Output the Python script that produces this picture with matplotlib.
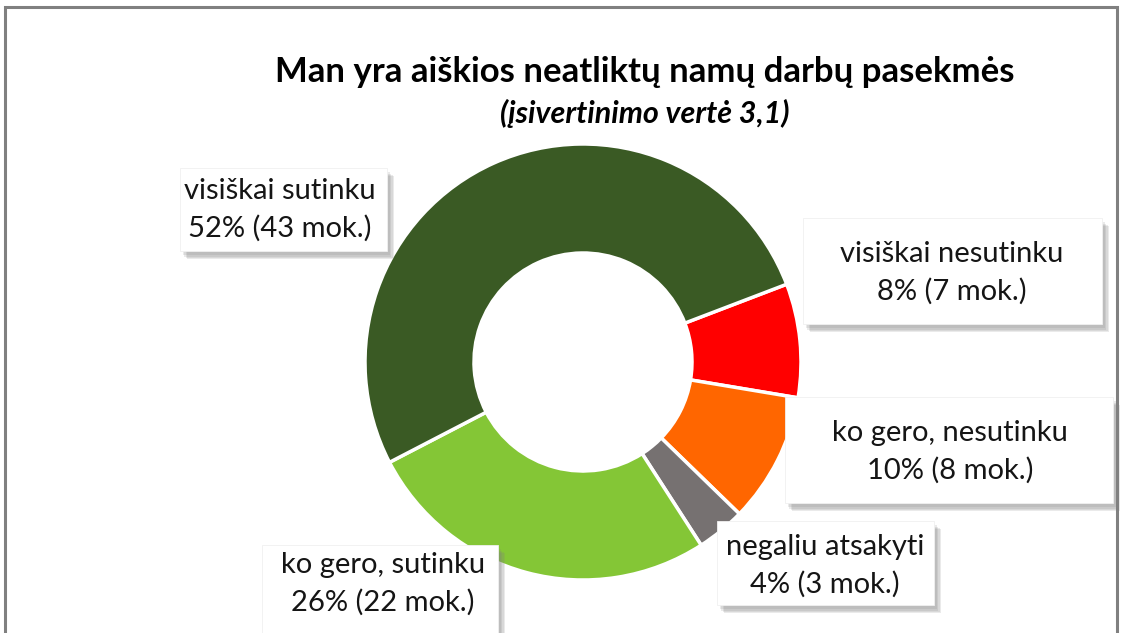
import matplotlib
matplotlib.use("Agg")
import matplotlib.pyplot as plt
from matplotlib.patches import Rectangle
import matplotlib.patheffects as pe

plt.rcParams['font.family'] = ['Lato', 'DejaVu Sans']

title = "Man yra aiškios neatliktų namų darbų pasekmės"
subtitle = "(įsivertinimo vertė 3,1)"

# slices in clockwise order starting at the red one
categories = ["visiškai nesutinku", "ko gero, nesutinku", "negaliu atsakyti",
              "ko gero, sutinku", "visiškai sutinku"]
counts = [7, 8, 3, 22, 43]
percents = [8, 10, 4, 26, 52]
colors = ["#FF0000", "#FF6600", "#767171", "#84C636", "#3A5A24"]

# label box placement (pixel coords, y from top): x0, y0, x1, y1
boxes = [(803, 218, 1102, 324), (785, 397, 1113, 503), (717, 521, 934, 605),
         (262, 545, 498, 660), (180, 168, 387, 251)]
# text centre of each label (pixel coords, y from top)
text_pos = [(952, 273), (950, 452), (825, 566), (383, 584), (280, 210)]

W, H = 1121, 633
fig = plt.figure(figsize=(W / 100, H / 100), dpi=100)
ax = fig.add_axes([0, 0, 1, 1])

# outer chart frame (bottom edge is off the canvas)
ax.add_patch(Rectangle((5, -20), 1112, H - 7 + 20, fill=False,
                       edgecolor="#808080", linewidth=2.2, zorder=0))

cx, cy, r = 583, H - 362, 218
ax.pie(counts, colors=colors, startangle=20.9, counterclock=False,
       center=(cx, cy), radius=r, frame=True,
       wedgeprops=dict(width=r * 0.5, edgecolor="white", linewidth=2.5))
ax.set_xlim(0, W)
ax.set_ylim(0, H)
ax.set_aspect("equal")
ax.axis("off")

# soft drop shadow: a few stacked offsets
shadow = [pe.SimplePatchShadow(offset=(dx, -dy), shadow_rgbFace="#808080", alpha=0.16)
          for dx, dy in [(2, 3), (3, 4), (4, 5), (5, 6)]] + [pe.Normal()]
for cat, n, p, (x0, y0, x1, y1), (tx, ty) in zip(categories, counts, percents,
                                                 boxes, text_pos):
    ax.add_patch(Rectangle((x0, H - y1), x1 - x0, y1 - y0, facecolor="white",
                           edgecolor="#f0f0f0", linewidth=0.6, zorder=3,
                           path_effects=shadow))
    ax.text(tx, H - ty, f"{cat}\n{p}% ({n} mok.)",
            ha="center", va="center", fontsize=21, linespacing=1.5,
            color="#151515", zorder=4)

ax.text(645, H - 72, title, ha="center", va="center", fontsize=25,
        fontweight="bold", color="black")
ax.text(645, H - 113, subtitle, ha="center", va="center", fontsize=22,
        fontweight="bold", fontstyle="italic", color="black")

fig.savefig("out.png", dpi=100)
